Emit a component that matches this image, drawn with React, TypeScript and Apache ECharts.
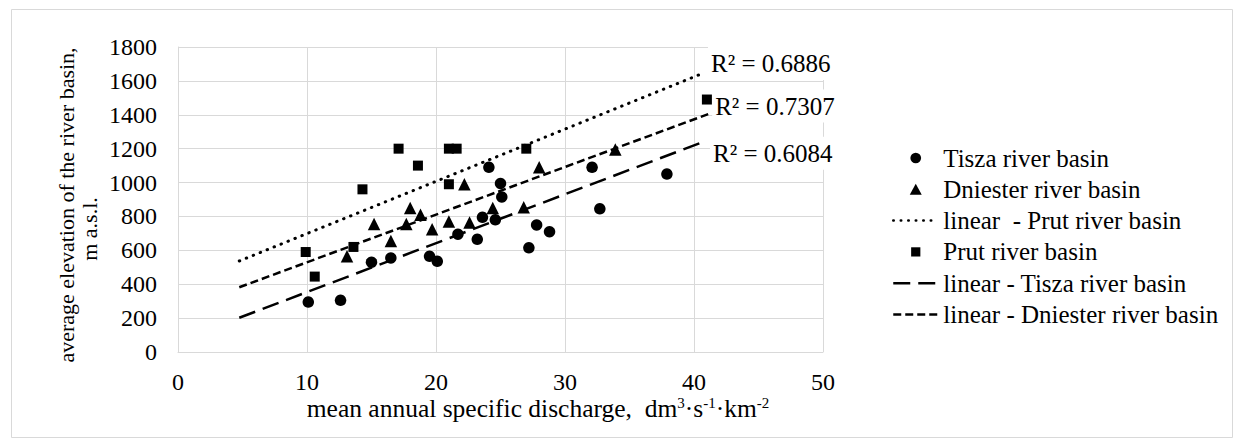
import React, { useEffect, useRef } from "react";
import * as echarts from "echarts";

const FONT = "Liberation Serif";

// Data
const tiszaPoints: [number, number][] = [
  [10.1, 295], [12.6, 305], [15.0, 530], [16.5, 555], [19.5, 565], [20.1, 535],
  [21.7, 695], [23.2, 665], [23.6, 795], [24.1, 1090], [24.6, 780], [25.0, 995],
  [25.1, 915], [27.2, 615], [27.8, 750], [28.8, 710], [32.1, 1090], [32.7, 845],
  [37.9, 1050],
];
const dniesterPoints: [number, number][] = [
  [13.1, 565], [15.2, 755], [16.5, 655], [17.7, 755], [18.0, 850], [18.8, 810],
  [19.7, 725], [21.0, 770], [22.2, 990], [22.6, 765], [24.4, 850], [26.8, 855],
  [28.0, 1090], [33.9, 1195],
];
const prutPoints: [number, number][] = [
  [9.9, 590], [10.6, 445], [13.6, 620], [14.3, 960], [17.1, 1200], [18.6, 1100],
  [21.0, 1200], [21.6, 1200], [21.0, 990], [27.0, 1200], [41.0, 1490],
];
const prutTrend: [number, number][] = [[4.75, 537], [40.85, 1650]];
const dniesterTrend: [number, number][] = [[4.75, 382], [41.1, 1404]];
const tiszaTrend: [number, number][] = [[4.75, 202], [40.85, 1244]];

const rSquaredLabels = ["R² = 0.6886", "R² = 0.7307", "R² = 0.6084"];
const seriesNames = [
  "Tisza river basin",
  "Dniester river basin",
  "linear  - Prut river basin",
  "Prut river basin",
  "linear - Tisza river basin",
  "linear - Dniester river basin",
];
const xRange = [0, 50, 10];
const yRange = [0, 1800, 200];
const yTitleLines = ["average elevation of the river basin,", "m a.s.l."];
const xTitleParts = ["mean annual specific discharge,  dm", "3", "·s", "-1", "·km", "-2"];

// legend icons (shapes with transparent margins so they keep the reference size)
const ICON_CIRCLE = "path://M0,0L0,0M12,12L12,12M0.65,6A5.35,5.35 0 1,1 11.35,6A5.35,5.35 0 1,1 0.65,6Z";
const ICON_TRIANGLE = "path://M0,0L0,0M13,13L13,13M6.5,0.5L13,12.5L0,12.5Z";
const ICON_SQUARE = "path://M0,0L0,0M13,13L13,13M1.5,1.5L11.5,1.5L11.5,11.5L1.5,11.5Z";

export default function App() {
  const ref = useRef<HTMLDivElement>(null);

  useEffect(() => {
    if (!ref.current) return;
    const chart = echarts.init(ref.current, undefined, { renderer: "svg" });
    const gridColor = "#d9d9d9";
    const iconFor: Record<string, string> = {
      [seriesNames[0]]: ICON_CIRCLE,
      [seriesNames[1]]: ICON_TRIANGLE,
      [seriesNames[3]]: ICON_SQUARE,
    };
    const tickRich = { t: { fontFamily: FONT, fontSize: 24, color: "#000", lineHeight: 26 } };
    const option: any = {
      animation: false,
      backgroundColor: "#ffffff",
      textStyle: { fontFamily: FONT, color: "#000" },
      grid: { left: 178, top: 47, width: 645, height: 305, containLabel: false },
      xAxis: {
        type: "value",
        min: xRange[0],
        max: xRange[1],
        interval: xRange[2],
        axisLine: { show: true, lineStyle: { color: gridColor } },
        axisTick: { show: false },
        splitLine: { show: true, lineStyle: { color: gridColor, width: 1 } },
        axisLabel: {
          color: "#000", fontSize: 24, fontFamily: FONT, margin: 17,
          formatter: (v: number) => "{t|" + String(v) + "}",
          rich: tickRich,
        },
      },
      yAxis: {
        type: "value",
        min: yRange[0],
        max: yRange[1],
        interval: yRange[2],
        axisLine: { show: true, lineStyle: { color: gridColor } },
        axisTick: { show: false },
        splitLine: { show: true, lineStyle: { color: gridColor, width: 1 } },
        axisLabel: {
          color: "#000", fontSize: 24, fontFamily: FONT, margin: 21,
          formatter: (v: number) => "{t|" + String(v) + "}",
          rich: tickRich,
        },
      },
      legend: {
        orient: "vertical",
        left: 887,
        top: 140.5,
        itemWidth: 45,
        itemHeight: 12,
        itemGap: 6.3,
        selectedMode: false,
        formatter: (name: string) => "{t|" + name + "}",
        textStyle: {
          color: "#000", fontSize: 25, fontFamily: FONT, lineHeight: 25,
          rich: { t: { fontFamily: FONT, fontSize: 25, color: "#000", lineHeight: 25 } },
        },
        lineStyle: { width: 2.5 },
        itemStyle: { opacity: 1 },
        data: seriesNames.map((n) =>
          iconFor[n]
            ? { name: n, icon: iconFor[n] }
            : { name: n, itemStyle: { opacity: 0 } }
        ),
      },
      series: [
        {
          name: seriesNames[0], type: "scatter", data: tiszaPoints,
          symbol: "circle", symbolSize: 11.5, itemStyle: { color: "#000", opacity: 1 }, z: 3,
        },
        {
          name: seriesNames[1], type: "scatter", data: dniesterPoints,
          symbol: "triangle", symbolSize: 12.5, itemStyle: { color: "#000", opacity: 1 }, z: 3,
        },
        {
          name: seriesNames[2], type: "line", data: prutTrend, symbol: "none",
          lineStyle: { color: "#000", width: 3, type: [0.5, 7], cap: "round" },
          itemStyle: { color: "#000" }, z: 4,
        },
        {
          name: seriesNames[3], type: "scatter", data: prutPoints,
          symbol: "rect", symbolSize: 10, itemStyle: { color: "#000", opacity: 1 }, z: 3,
        },
        {
          name: seriesNames[4], type: "line", data: tiszaTrend, symbol: "none",
          lineStyle: { color: "#000", width: 2.5, type: [17, 8] },
          itemStyle: { color: "#000" }, z: 4,
        },
        {
          name: seriesNames[5], type: "line", data: dniesterTrend, symbol: "none",
          lineStyle: { color: "#000", width: 2.5, type: [8, 4] },
          itemStyle: { color: "#000" }, z: 4,
        },
      ],
    };
    chart.setOption(option);

    const ends = [prutTrend[1], dniesterTrend[1], tiszaTrend[1]];
    const offsets = [[3, -9], [4, -8], [5, 12]];
    const rLabels = ends.map((pt, i) => {
      const p = chart.convertToPixel({ gridIndex: 0 }, pt) as number[];
      return {
        type: "text",
        x: p[0] + offsets[i][0],
        y: p[1] + offsets[i][1],
        z: 10,
        style: {
          text: rSquaredLabels[i],
          fontSize: 25,
          fontFamily: FONT,
          fill: "#000",
          align: "left",
          verticalAlign: "middle",
          backgroundColor: "#ffffff",
          padding: [4, 3],
          lineHeight: 25,
        },
      };
    });

    chart.setOption({
      graphic: [
        {
          type: "rect",
          silent: true,
          z: -1,
          shape: { x: 11.5, y: 9.5, width: 1221, height: 428 },
          style: { fill: "none", stroke: "#d9d9d9", lineWidth: 1 },
        },
        {
          type: "text",
          x: 66.6,
          y: 205,
          rotation: Math.PI / 2,
          style: {
            text: yTitleLines[0], fontSize: 22, fontFamily: FONT, fill: "#000",
            align: "center", verticalAlign: "middle",
          },
        },
        {
          type: "text",
          x: 89.3,
          y: 229,
          rotation: Math.PI / 2,
          style: {
            text: yTitleLines[1], fontSize: 22, fontFamily: FONT, fill: "#000",
            align: "center", verticalAlign: "middle",
          },
        },
        {
          type: "text",
          x: 538,
          y: 408,
          style: {
            text:
              "{a|" + xTitleParts[0] + "}{s|" + xTitleParts[1] + "}{a|" + xTitleParts[2] +
              "}{s|" + xTitleParts[3] + "}{a|" + xTitleParts[4] + "}{s|" + xTitleParts[5] + "}",
            align: "center",
            verticalAlign: "middle",
            rich: {
              a: { fontSize: 25.5, fontFamily: FONT, fill: "#000", lineHeight: 26 },
              s: { fontSize: 15, fontFamily: FONT, fill: "#000", lineHeight: 18, verticalAlign: "top" },
            },
          },
        },
        ...rLabels,
      ],
    });

    return () => chart.dispose();
  }, []);

  return (
    <div
      ref={ref}
      style={{ position: "fixed", left: 0, top: 0, width: 1244, height: 447 }}
    />
  );
}
